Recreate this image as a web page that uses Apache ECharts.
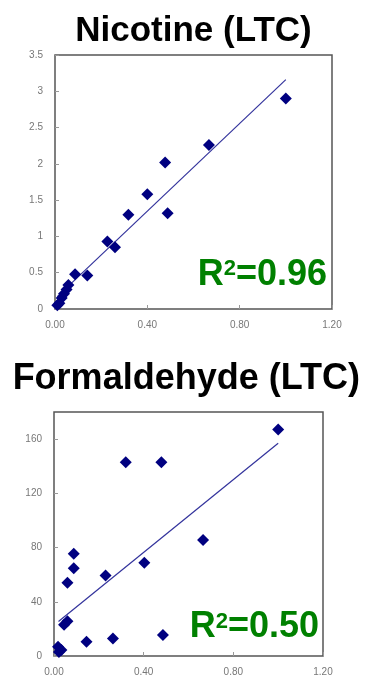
<!DOCTYPE html>
<html>
<head>
<meta charset="utf-8">
<script src="https://cdn.jsdelivr.net/npm/echarts@6/dist/echarts.min.js"></script>
<style>
  html, body { margin: 0; padding: 0; background: #fff; }
  #chart { width: 366px; height: 686px; }
</style>
</head>
<body>
<div id="chart"></div>
<script>
// nicotine panel
const nicX = [1.00, 0.667, 0.477, 0.40, 0.488, 0.318, 0.227, 0.26, 0.087, 0.14, 0.058, 0.05, 0.039, 0.029, 0.019, 0.01];
const nicY = [2.90, 2.26, 2.02, 1.58, 1.32, 1.30, 0.93, 0.85, 0.48, 0.46, 0.33, 0.27, 0.21, 0.15, 0.08, 0.05];
const nicFitX = [0.01, 1.00];
const nicFitY = [0.17, 3.16];

// formaldehyde panel
const formX = [1.00, 0.32, 0.479, 0.665, 0.403, 0.23, 0.088, 0.088, 0.06, 0.06, 0.045, 0.486, 0.263, 0.145, 0.018, 0.033, 0.022];
const formY = [167, 143, 143, 85.5, 68.7, 59.4, 75.5, 64.7, 54, 25.6, 23, 15.4, 13, 10.5, 6.8, 4.4, 3];
const formFitX = [0.02, 1.00];
const formFitY = [25.5, 157];

const titles = ["Nicotine (LTC)", "Formaldehyde (LTC)"];
const r2Values = ["=0.96", "=0.50"];

const pairs = (xs, ys) => xs.map((x, i) => [x, ys[i]]);

const labelFont = { color: '#777', fontSize: 10, fontFamily: 'Liberation Sans Narrow, Liberation Sans, Arial, sans-serif' };
const boldFont = '"Liberation Sans", Arial, sans-serif';
const bigFont = 'bold 36px ' + boldFont;
const supFont = 'bold 22px ' + boldFont;

const xAxisBase = {
  type: 'value', min: 0, max: 1.2, interval: 0.4,
  splitLine: { show: false },
  axisLine: { show: false },
  axisTick: { show: true, inside: true, length: 4, lineStyle: { color: '#999' } },
  axisLabel: Object.assign({ margin: 11, formatter: v => v.toFixed(2) }, labelFont)
};
const yAxisBase = {
  type: 'value', min: 0,
  splitLine: { show: false },
  axisLine: { show: false },
  axisTick: { show: true, inside: true, length: 4, lineStyle: { color: '#999' } },
  axisLabel: Object.assign({ margin: 12 }, labelFont)
};

// measure text so the superscript 2 sits right after the R
const measureCtx = document.createElement('canvas').getContext('2d');
function textWidth(str, font) {
  measureCtx.font = font;
  return measureCtx.measureText(str).width;
}

// R² label: right edge at x, cap middle at y
function r2Text(x, y, value) {
  const wVal = textWidth(value, bigFont);
  const wSup = textWidth('2', supFont);
  const green = '#008000';
  return [
    { type: 'text', z: 10, style: { x: x, y: y, text: value, textAlign: 'right', textVerticalAlign: 'middle', font: bigFont, fill: green } },
    { type: 'text', z: 10, style: { x: x - wVal, y: y - 17, text: '2', textAlign: 'right', textVerticalAlign: 'top', font: supFont, fill: green } },
    { type: 'text', z: 10, style: { x: x - wVal - wSup, y: y, text: 'R', textAlign: 'right', textVerticalAlign: 'middle', font: bigFont, fill: green } }
  ];
}

const chart = echarts.init(document.getElementById('chart'), null, { renderer: 'canvas' });

chart.setOption({
  animation: false,
  backgroundColor: '#fff',
  grid: [
    { left: 55, right: 34, top: 55, bottom: 377, show: true, borderColor: '#555', borderWidth: 1.5 },
    { left: 54, right: 43, top: 412, bottom: 30, show: true, borderColor: '#555', borderWidth: 1.5 }
  ],
  xAxis: [
    Object.assign({ gridIndex: 0 }, xAxisBase),
    Object.assign({ gridIndex: 1 }, xAxisBase)
  ],
  yAxis: [
    Object.assign({ gridIndex: 0, max: 3.5, interval: 0.5 }, yAxisBase),
    Object.assign({ gridIndex: 1, max: 180, interval: 40 }, yAxisBase, {
      axisLabel: Object.assign({ margin: 12, showMaxLabel: false }, labelFont)
    })
  ],
  graphic: [
    { type: 'text', style: { x: 193.5, y: 31, text: titles[0], textAlign: 'center', textVerticalAlign: 'middle',
      font: 'bold 35px ' + boldFont, fill: '#000' } },
    { type: 'text', style: { x: 186.3, y: 379, text: titles[1], textAlign: 'center', textVerticalAlign: 'middle',
      font: 'bold 36px ' + boldFont, fill: '#000' } }
  ].concat(r2Text(327, 275, r2Values[0]), r2Text(319, 627.5, r2Values[1])),
  series: [
    {
      type: 'line', xAxisIndex: 0, yAxisIndex: 0, data: pairs(nicFitX, nicFitY),
      showSymbol: false, symbol: 'none', z: 1,
      lineStyle: { color: '#33339c', width: 1.2 }
    },
    {
      type: 'scatter', xAxisIndex: 0, yAxisIndex: 0, data: pairs(nicX, nicY),
      symbol: 'diamond', symbolSize: 12, z: 3,
      itemStyle: { color: '#000080', opacity: 1 }
    },
    {
      type: 'line', xAxisIndex: 1, yAxisIndex: 1, data: pairs(formFitX, formFitY),
      showSymbol: false, symbol: 'none', z: 1,
      lineStyle: { color: '#33339c', width: 1.2 }
    },
    {
      type: 'scatter', xAxisIndex: 1, yAxisIndex: 1, data: pairs(formX, formY),
      symbol: 'diamond', symbolSize: 12, z: 3,
      itemStyle: { color: '#000080', opacity: 1 }
    }
  ]
});
</script>
</body>
</html>
